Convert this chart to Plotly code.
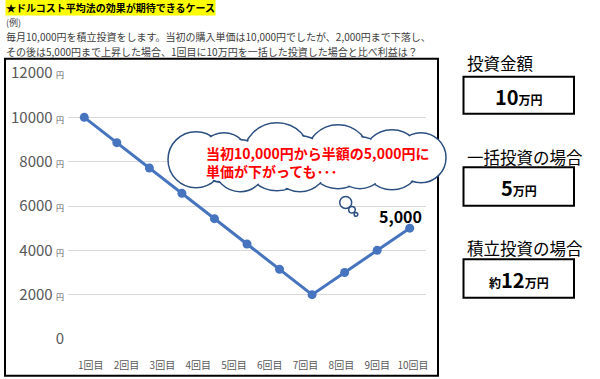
import numpy as np
import plotly.graph_objects as go

# ---- data ----
point_index = list(range(11))
unit_price = [10000, 8857, 7714, 6571, 5429, 4286, 3143, 2000, 3000, 4000, 5000]
x_labels = ["1回目", "2回目", "3回目", "4回目", "5回目", "6回目", "7回目", "8回目", "9回目", "10回目"]
y_ticks = [0, 2000, 4000, 6000, 8000, 10000, 12000]
end_label = "5,000"

title_text = "★ドルコスト平均法の効果が期待できるケース"
example_text = "(例)"
desc_line1 = "毎月10,000円を積立投資をします。当初の購入単価は10,000円でしたが、2,000円まで下落し、"
desc_line2 = "その後は5,000円まで上昇した場合、1回目に10万円を一括した投資した場合と比べ利益は？"
cloud_line1 = "当初10,000円から半額の5,000円に"
cloud_line2 = "単価が下がっても･･･"
panel_titles = ["投資金額", "一括投資の場合", "積立投資の場合"]
panel_values = [
    "<b><span style='font-size:20px'>10</span>万円</b>",
    "<b><span style='font-size:20px'>5</span>万円</b>",
    "<b>約<span style='font-size:20px'>12</span>万円</b>",
]

FONT = "Noto Sans CJK JP"
W, H = 600, 379
L, R, T, B = 68, 426, 73.3, 339.3  # plot area in pixels
LINE_COLOR = "#4674BE"


def px(x):
    return (x - L) / (R - L)


def py(y):
    return (B - y) / (B - T)


x_label_pos = np.linspace(0.2, 10.1, len(x_labels))

fig = go.Figure()
fig.add_trace(go.Scatter(
    x=point_index, y=unit_price, mode="lines+markers",
    line=dict(color=LINE_COLOR, width=3),
    marker=dict(color=LINE_COLOR, size=9),
    hoverinfo="skip", showlegend=False,
))

shapes = []
annotations = []

# chart border
shapes.append(dict(type="rect", xref="paper", yref="paper",
                   x0=px(5), x1=px(438), y0=py(59), y1=py(376),
                   line=dict(color="black", width=2), layer="below"))

# cloud callout
lobes = [
    (196, 160, 28), (224, 158, 25), (277, 157, 34), (338, 157, 32),
    (392, 160, 30), (421, 158, 25), (240, 166, 26), (300, 164, 28), (360, 163, 26),
]
CLOUD = "#2B4F80"
for cx, cy, r in lobes:
    shapes.append(dict(type="circle", xref="paper", yref="paper",
                       x0=px(cx - r), x1=px(cx + r), y0=py(cy + r), y1=py(cy - r),
                       line=dict(color=CLOUD, width=1.5), fillcolor="white", layer="above"))
for cx, cy, r in lobes:
    rr = r - 1.2
    shapes.append(dict(type="circle", xref="paper", yref="paper",
                       x0=px(cx - rr), x1=px(cx + rr), y0=py(cy + rr), y1=py(cy - rr),
                       line=dict(width=0), fillcolor="white", layer="above"))
for cx, cy, r in [(345.7, 202.7, 6), (352, 210, 3.3), (356, 214.7, 1.8)]:
    shapes.append(dict(type="circle", xref="paper", yref="paper",
                       x0=px(cx - r), x1=px(cx + r), y0=py(cy + r), y1=py(cy - r),
                       line=dict(color=CLOUD, width=1.5), fillcolor="white", layer="above"))

annotations.append(dict(xref="paper", yref="paper", x=px(204), y=py(162), xanchor="left", yanchor="middle",
                        text=f"<b>{cloud_line1}<br>{cloud_line2}</b>", showarrow=False, align="left",
                        font=dict(family=FONT, size=14, color="#FF0000")))

# end label
annotations.append(dict(x=point_index[-1], y=unit_price[-1], xref="x", yref="y",
                        text=f"<b>{end_label}</b>", showarrow=False, xanchor="center", yanchor="bottom",
                        xshift=-9, yshift=-2, font=dict(family=FONT, size=16, color="black")))

# header texts
annotations.append(dict(xref="paper", yref="paper", x=px(5), y=py(8), xanchor="left", yanchor="middle",
                        text=f"<b>{title_text}</b>", showarrow=False, bgcolor="#FFFF00", borderpad=0,
                        font=dict(family=FONT, size=10, color="black")))
for txt, yy, fs in [(example_text, 22.5, 9), (desc_line1, 36.9, 10), (desc_line2, 51.8, 10)]:
    annotations.append(dict(xref="paper", yref="paper", x=px(5), y=py(yy), xanchor="left", yanchor="middle",
                            text=txt, showarrow=False, borderpad=0,
                            font=dict(family=FONT, size=fs, color="#404040")))

# right panels
title_y = [63, 157, 248]
box_y = [(77, 114), (167.5, 206), (259.5, 298)]
for t, v, ty, (b0, b1) in zip(panel_titles, panel_values, title_y, box_y):
    annotations.append(dict(xref="paper", yref="paper", x=px(465), y=py(ty), xanchor="left", yanchor="middle",
                            text=t, showarrow=False, font=dict(family=FONT, size=16.5, color="black")))
    shapes.append(dict(type="rect", xref="paper", yref="paper",
                       x0=px(463.5), x1=px(574), y0=py(b1), y1=py(b0),
                       line=dict(color="black", width=2), fillcolor="white"))
    annotations.append(dict(xref="paper", yref="paper", x=px(518.5), y=py((b0 + b1) / 2 + 1),
                            xanchor="center", yanchor="middle",
                            text=v, showarrow=False, font=dict(family=FONT, size=12, color="black")))

y_ticktext = [("0" if v == 0 else f"{v} <span style='font-size:8px'>円</span>") for v in y_ticks]

fig.update_layout(
    width=W, height=H,
    margin=dict(l=L, r=W - R, t=T, b=H - B),
    paper_bgcolor="white", plot_bgcolor="white",
    font=dict(family=FONT, color="#595959"),
    shapes=shapes, annotations=annotations,
    xaxis=dict(range=[-0.5, 10.5], tickmode="array", tickvals=x_label_pos, ticktext=x_labels,
               showgrid=False, zeroline=False, showline=False, ticks="", automargin=False,
               tickfont=dict(family=FONT, size=10, color="#595959"), ticklabelstandoff=19),
    yaxis=dict(range=[0, 12000], tickmode="array", tickvals=y_ticks, ticktext=y_ticktext,
               showgrid=True, gridcolor="#D9D9D9", gridwidth=1, zeroline=False, showline=False, ticks="",
               automargin=False,
               tickfont=dict(family=FONT, size=15, color="#595959"), ticklabelstandoff=3),
)

fig.write_html("out.html", config={"displayModeBar": False},
               post_script="document.body.style.margin='0';document.body.style.overflow='hidden';")
